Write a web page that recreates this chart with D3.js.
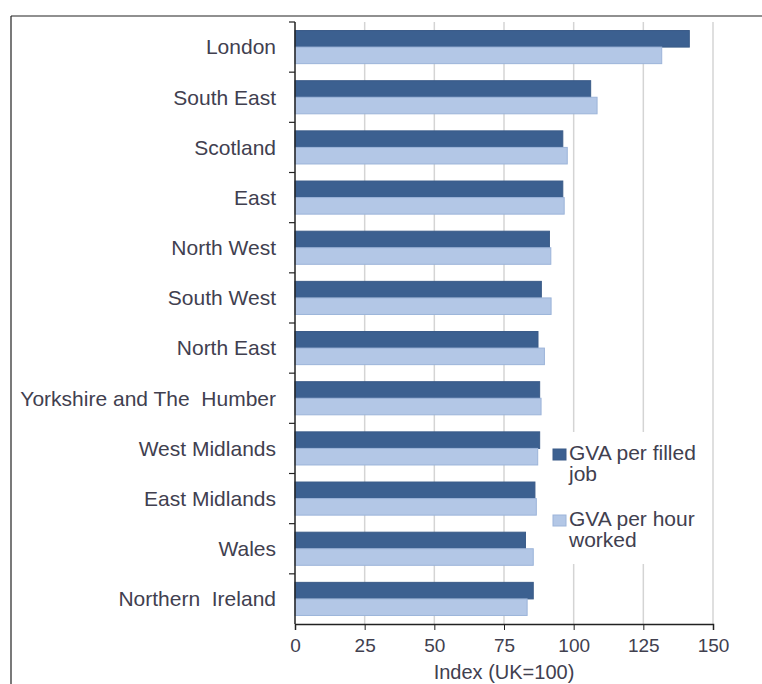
<!DOCTYPE html>
<html>
<head>
<meta charset="utf-8">
<script src="https://cdn.jsdelivr.net/npm/d3@7"></script>
<style>
  body { margin: 0; background: #fff; }
  svg { display: block; font-family: "Liberation Sans", Arial, sans-serif; }
</style>
</head>
<body>
<svg width="762" height="684"></svg>
<script>
// Data
var regions = ["London", "South East", "Scotland", "East", "North West", "South West",
    "North East", "Yorkshire and The  Humber", "West Midlands", "East Midlands", "Wales", "Northern  Ireland"];
var perJob = [141.5, 106.1, 96.1, 96.1, 91.3, 88.4, 87.2, 87.8, 87.8, 86.1, 82.7, 85.5];
var perHour = [131.6, 108.4, 97.7, 96.6, 91.8, 91.9, 89.5, 88.3, 87.1, 86.6, 85.5, 83.3];
var seriesNames = ["GVA per filled job", "GVA per hour worked"];
var legendLines = [["GVA per filled", "job"], ["GVA per hour", "worked"]];
var xTicks = [0, 25, 50, 75, 100, 125, 150];

var textColor = "#41404f";
var colors = ["#3c6090", "#b3c7e6"];
var strokes = ["#3a5b88", "#9cb4d9"];

var svg = d3.select("svg");

// outer frame (top + left visible)
svg.append("path")
    .attr("d", "M 11,16 L 762,16 M 11,16 L 11,684")
    .attr("stroke", "#222")
    .attr("stroke-width", 1.2)
    .attr("fill", "none");

var x = d3.scaleLinear().domain([0, 150]).range([295, 713]);
var y = d3.scaleBand().domain(regions).range([22, 624]).paddingInner(0.34).paddingOuter(0.17);
var ySub = d3.scaleBand().domain([0, 1]).range([0, y.bandwidth()]);

// gridlines
svg.selectAll(".grid")
    .data(xTicks.slice(1))
    .enter()
    .append("line")
    .attr("class", "grid")
    .attr("x1", d => x(d)).attr("x2", d => x(d))
    .attr("y1", 22).attr("y2", 624)
    .attr("stroke", "#d4d4d4")
    .attr("stroke-width", 1.5);

// bars
var rows = regions.map(function (r, i) { return { region: r, vals: [perJob[i], perHour[i]] }; });
var g = svg.selectAll(".row")
    .data(rows)
    .enter()
    .append("g")
    .attr("class", "row")
    .attr("transform", d => "translate(0," + y(d.region) + ")");

g.selectAll("rect")
    .data(d => d.vals)
    .enter()
    .append("rect")
    .attr("x", x(0))
    .attr("y", (d, i) => ySub(i))
    .attr("width", d => x(d) - x(0))
    .attr("height", ySub.bandwidth())
    .attr("fill", (d, i) => colors[i])
    .attr("stroke", (d, i) => strokes[i])
    .attr("stroke-width", 1);

// legend background + entries
svg.append("rect")
    .attr("x", 549).attr("y", 432)
    .attr("width", 160).attr("height", 132)
    .attr("fill", "#fff");

var leg = svg.selectAll(".leg")
    .data(seriesNames)
    .enter()
    .append("g")
    .attr("class", "leg")
    .attr("transform", (d, i) => "translate(553," + (449 + i * 66) + ")");
leg.append("rect")
    .attr("width", 13).attr("height", 11)
    .attr("fill", (d, i) => colors[i])
    .attr("stroke", (d, i) => strokes[i]);
leg.append("text")
    .attr("x", 16)
    .attr("y", 11)
    .attr("font-size", "21px")
    .attr("fill", textColor)
    .selectAll("tspan")
    .data((d, i) => legendLines[i])
    .enter()
    .append("tspan")
    .attr("x", 16)
    .attr("dy", (d, i) => i === 0 ? 0 : 21)
    .text(d => d);

// x axis
var xAxis = svg.append("g")
    .attr("transform", "translate(0,624)")
    .call(d3.axisBottom(x).tickValues(xTicks).tickSize(6).tickPadding(9));
xAxis.select(".domain").attr("stroke", "#222").attr("stroke-width", 1.5);
xAxis.selectAll(".tick line").attr("stroke", "#222");
xAxis.selectAll(".tick text")
    .attr("fill", textColor)
    .attr("font-size", "19px")
    .attr("font-family", "Liberation Sans, Arial, sans-serif");

// y axis (line + ticks at band edges)
svg.append("line")
    .attr("x1", x(0)).attr("x2", x(0))
    .attr("y1", 22).attr("y2", 624)
    .attr("stroke", "#222").attr("stroke-width", 1.5);
var edges = regions.map(r => y(r) - y.step() * 0.17);
svg.selectAll(".ytick")
    .data(edges)
    .enter()
    .append("line")
    .attr("x1", x(0) - 6).attr("x2", x(0))
    .attr("y1", d => d).attr("y2", d => d)
    .attr("stroke", "#222").attr("stroke-width", 1.2);

svg.selectAll(".ylab")
    .data(regions)
    .enter()
    .append("text")
    .attr("x", 276)
    .attr("y", d => y(d) + y.bandwidth() / 2)
    .attr("dy", "0.35em")
    .attr("text-anchor", "end")
    .attr("font-size", "21px")
    .attr("fill", textColor)
    .style("white-space", "pre")
    .text(d => d);

// axis title
svg.append("text")
    .attr("x", (x(0) + x(150)) / 2)
    .attr("y", 679)
    .attr("text-anchor", "middle")
    .attr("font-size", "20px")
    .attr("fill", textColor)
    .text("Index (UK=100)");
</script>
</body>
</html>
